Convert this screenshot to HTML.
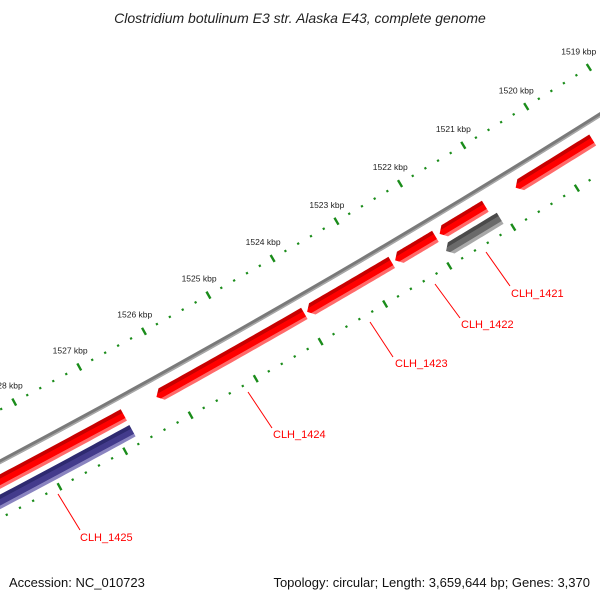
<!DOCTYPE html>
<html><head><meta charset="utf-8"><style>
html,body{margin:0;padding:0;background:#fff}
svg{display:block;font-family:"Liberation Sans",sans-serif}
</style></head><body>
<svg id="map" width="600" height="600" viewBox="0 0 600 600" xmlns="http://www.w3.org/2000/svg">
<defs id="defs"></defs>
<text x="300" y="23" text-anchor="middle" font-size="14" font-style="italic" fill="#222">Clostridium botulinum E3 str. Alaska E43, complete genome</text>
<g id="ticks"></g>
<g id="backbone"></g>
<g id="genes"></g>
<g id="labels"></g>
<text x="9" y="587" font-size="13" fill="#111">Accession: NC_010723</text>
<text x="590" y="587" text-anchor="end" font-size="13" fill="#111">Topology: circular; Length: 3,659,644 bp; Genes: 3,370</text>
</svg>
<script>
// data
const kbpTicks = [1518,1519,1520,1521,1522,1523,1524,1525,1526,1527,1528];
const kbpLabels = ["1518 kbp","1519 kbp","1520 kbp","1521 kbp","1522 kbp","1523 kbp","1524 kbp","1525 kbp","1526 kbp","1527 kbp","1528 kbp"];
const geneNames = ["", "", "CLH_1422", "", "CLH_1423", "CLH_1424", "", "CLH_1421", "CLH_1425"];
const geneStarts = [1518600, 1519478, 1521174, 1521957, 1522640, 1524000, 1526783, 1521087, 1526783];
const geneEnds   = [1519348, 1520696, 1521891, 1522587, 1523957, 1526283, 1529000, 1521935, 1529000];
const geneLanes  = [1, 1, 1, 1, 1, 1, 1, 2, 2];
const geneColors = ["red","red","red","red","red","red","red","gray","blue"];
const labelNames = ["CLH_1421","CLH_1422","CLH_1423","CLH_1424","CLH_1425"];

const NS="http://www.w3.org/2000/svg";
const CX=-4329, CY=-7715, A0=60.01, REF=1524000, K=0.00046;
function polar(bp,r){const a=(A0+(bp-REF)*K)*Math.PI/180;return [CX+r*Math.cos(a),CY+r*Math.sin(a)];}
function mk(tag,attrs,parent){const e=document.createElementNS(NS,tag);for(const k in attrs)e.setAttribute(k,attrs[k]);parent.appendChild(e);return e;}
function arcPts(b0,b1,r){const pts=[];const n=30;for(let i=0;i<=n;i++){pts.push(polar(b0+(b1-b0)*i/n,r));}return pts;}

// ticks
const tg=document.getElementById('ticks');
const rings=[9206,9302];
rings.forEach((r,ri)=>{
  for(let bp=1517000;bp<=1529000;bp+=200){
    const major=bp%1000===0;
    const len=major?8:2.2;
    const p1=polar(bp,r-len/2),p2=polar(bp,r+len/2);
    const l=mk('line',{x1:p1[0],y1:p1[1],x2:p2[0],y2:p2[1],stroke:'#1a8c1a','stroke-width':major?2.4:2.2},tg);
    
    
  }
});
kbpTicks.forEach((k,i)=>{
  const p=polar(k*1000,9187);
  const t=mk('text',{x:p[0],y:p[1]+3,'text-anchor':'middle','font-size':'8.5',fill:'#222'},tg);
  t.textContent=kbpLabels[i];
  
  
});

// backbone
const bb=document.getElementById('backbone');
const bpts=arcPts(1517000,1529000,9252).map(p=>p.join(',')).join(' ');
const b1=mk('polyline',{points:bpts,fill:'none',stroke:'#7a7a7a','stroke-width':4.5},bb);


const b2=mk('polyline',{points:arcPts(1517000,1529000,9253.5).map(p=>p.join(',')).join(' '),fill:'none',stroke:'#a8a8a8','stroke-width':1.5},bb);



// genes
const pal={red:['#c80000','#ff0000','#ff6a6a'],gray:['#4a4a4a','#6a6a6a','#a8a8a8'],blue:['#2e2a70','#433b8c','#8a84c0']};
const laneR={1:[9263,9276],2:[9281,9294]};
const defs=document.getElementById('defs');
const gg=document.getElementById('genes');
geneStarts.forEach((s,i)=>{
  const e=geneEnds[i];const [r1,r2]=laneR[geneLanes[i]];const rm=(r1+r2)/2;
  const head=Math.min(80,(e-s)/3);
  const outer=arcPts(s,e-head,r2);
  const inner=arcPts(e-head,s,r1);
  const tip=polar(e,rm);
  const pts=[...outer,tip,...inner].map(p=>p.join(',')).join(' ');
  const mid=(s+e)/2;const g1=polar(mid,r1),g2=polar(mid,r2);
  const c=pal[geneColors[i]];
  const gr=mk('linearGradient',{id:'g'+i,gradientUnits:'userSpaceOnUse',x1:g1[0],y1:g1[1],x2:g2[0],y2:g2[1]},defs);
  [[0,c[0]],[0.28,c[0]],[0.3,c[1]],[0.72,c[1]],[0.75,c[2]],[1,c[2]]].forEach(st=>mk('stop',{offset:st[0],'stop-color':st[1]},gr));
  const pg=mk('polygon',{points:pts,fill:'url(#g'+i+')'},gg);
  
  
});

// labels
const lx=[[486,252,510,286,511,297],[435,284,460,318,461,328],[370,322,393,357,395,367],[248,392,272,428,273,438],[58,494,80,530,80,541]];
const lg=document.getElementById('labels');
labelNames.forEach((n,i)=>{
  const c=lx[i];
  const l=mk('line',{x1:c[0],y1:c[1],x2:c[2],y2:c[3],stroke:'#ff0000','stroke-width':1},lg);
  
  
  const t=mk('text',{x:c[4],y:c[5],'font-size':'11',fill:'#ff0000'},lg);
  t.textContent=n;
  
  
});
</script>
</body></html>
